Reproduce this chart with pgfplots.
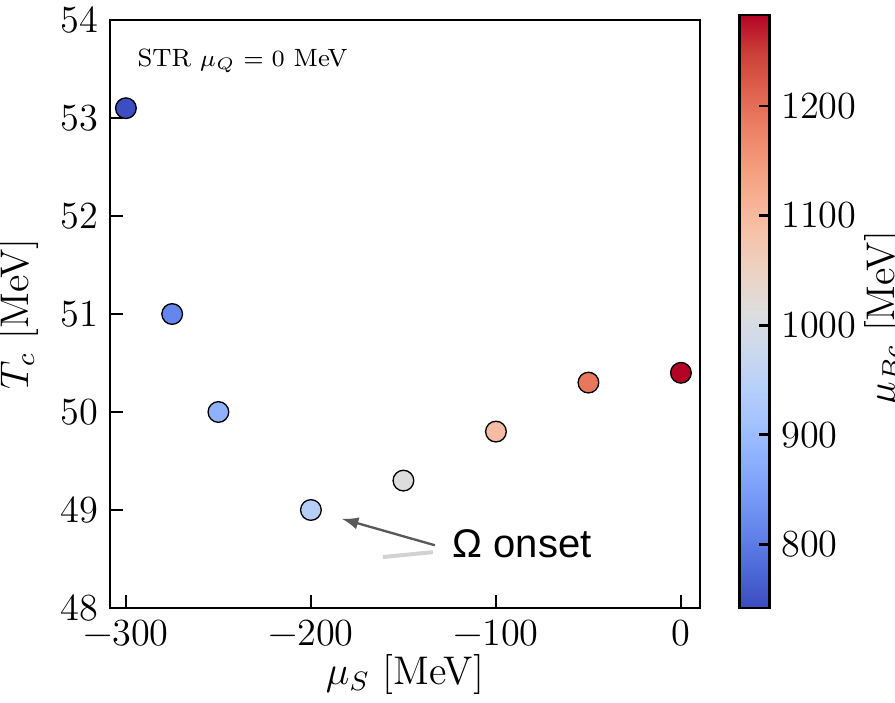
\documentclass[border=0pt]{standalone}
\usepackage[no-math]{fontspec}
\usepackage{pgfplots}
\pgfplotsset{compat=1.18}
\newfontfamily\arialfont{Liberation Sans}
\begin{document}
\begin{tikzpicture}
\begin{axis}[
  at={(0,0)}, anchor=south west,
  scale only axis, width=177pt, height=176.4pt,
  xmin=-308.6, xmax=10.3, ymin=48, ymax=54,
  xtick={-300,-200,-100,0}, xticklabels={−300,−200,−100,0},
  ytick={48,49,...,54},
  /pgf/number format/assume math mode=true,
  tick align=inside, xtick pos=bottom, ytick pos=left,
  major tick length=4pt,
  axis line style={line width=0.8pt}, tick style={line width=0.8pt, black},
  xticklabel style={font=\fontsize{11.5}{13.5}\selectfont},
  yticklabel style={font=\fontsize{11.5}{13.5}\selectfont},
  label style={font=\fontsize{12}{14}\selectfont},
  xlabel={$\mu_S$ [MeV]}, ylabel={$T_c$ [MeV]},
  xlabel style={at={(axis description cs:0.5,0)}, anchor=north, yshift=-10.5pt},
  ylabel style={at={(axis description cs:-0.102,0.5)}, anchor=south, rotate=0},
  colormap={coolwarm}{rgb255=(59,76,192) rgb255=(77,104,215) rgb255=(98,130,234) rgb255=(119,154,247) rgb255=(141,176,254) rgb255=(163,194,255) rgb255=(184,208,249) rgb255=(204,217,238) rgb255=(221,221,221) rgb255=(236,211,197) rgb255=(245,196,173) rgb255=(247,177,148) rgb255=(244,154,123) rgb255=(236,127,99) rgb255=(222,96,77) rgb255=(203,62,56) rgb255=(180,4,38)},
  point meta min=742, point meta max=1283,
  colorbar,
  colorbar style={scale only axis, at={(parent axis.south east)}, anchor=south west,
    xshift=3.3pt, width=9pt, height=177.9pt,
    ytick={800,900,...,1200}, tick align=inside, ytick pos=right, yticklabel pos=right,
    /pgf/number format/1000 sep={},
    /pgf/number format/assume math mode=true,
    major tick length=3pt,
    axis line style={line width=0.8pt}, tick style={line width=0.8pt, black},
    yticklabel style={font=\fontsize{11.5}{13.5}\selectfont},
    ylabel={$\mu_{Bc}$ [MeV]},
    ylabel style={font=\fontsize{12}{14}\selectfont, at={(axis description cs:5.17,0.489)}, anchor=base}},
]
\addplot[scatter, only marks, mark=*, mark size=3.1pt, line width=0.4pt,
  scatter/use mapped color={draw=black, fill=mapped color}, point meta=explicit]
  table[meta=m] {
x y m
-300 53.1 745
-275 51.0 815
-250 50.0 880
-200 49.0 942
-150 49.3 1012
-100 49.8 1094
-50 50.3 1190
0 50.4 1283
};
\node[anchor=base west, font=\fontsize{7.5}{9}\selectfont, inner sep=0pt] at (axis cs:-294,53.53) {STR $\mu_Q = 0$ MeV};
\draw[gray!35, line width=1.2pt] (axis cs:-134.1,48.57) -- (axis cs:-161.1,48.52);
\draw[-latex, gray!70!black, line width=0.7pt] (axis cs:-133,48.64) -- (axis cs:-183.2,48.91);
\node[anchor=west, font=\arialfont\fontsize{12}{14}\selectfont, inner sep=0pt] at (axis cs:-123.8,48.66) {Ω onset};
\end{axis}
\pgfresetboundingbox
\useasboundingbox (-33pt,-28.5pt) rectangle (235.5pt,182.4pt);
\end{tikzpicture}
\end{document}
